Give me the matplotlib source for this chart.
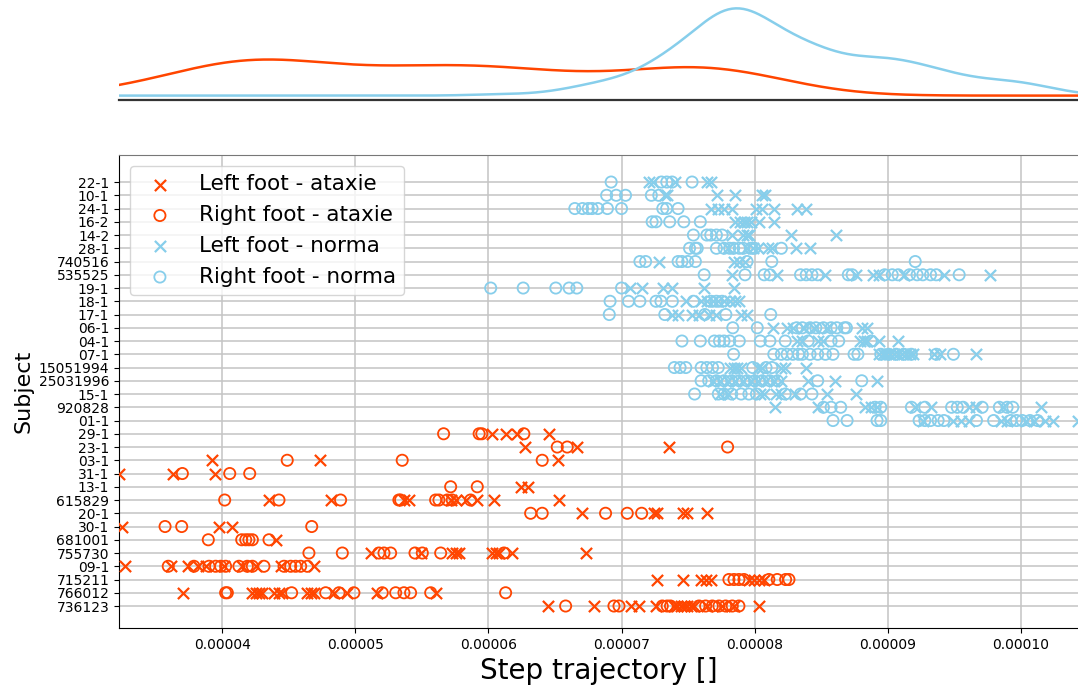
import numpy as np
import matplotlib
matplotlib.use("Agg")
import matplotlib.pyplot as plt
from matplotlib.ticker import FormatStrFormatter

# step trajectory values, in units of 1e-5
SCALE = 1e-5

subjects = ["22-1", "10-1", "24-1", "16-2", "14-2", "28-1", "740516", "535525",
            "19-1", "18-1", "17-1", "06-1", "04-1", "07-1", "15051994", "25031996",
            "15-1", "920828", "01-1", "29-1", "23-1", "03-1", "31-1", "13-1",
            "615829", "20-1", "30-1", "681001", "755730", "09-1", "715211",
            "766012", "736123"]

ataxie_left = {
    "29-1": [6.026, 6.131, 6.214, 6.453],
    "23-1": [6.275, 6.667, 7.359],
    "03-1": [3.925, 4.732, 6.524],
    "31-1": [3.224, 3.63, 3.945],
    "13-1": [6.242, 6.3],
    "615829": [4.351, 4.814, 5.365, 5.403, 5.716, 5.753, 5.829, 5.916, 6.041, 6.53],
    "20-1": [6.705, 7.244, 7.268, 7.461, 7.494, 7.639],
    "30-1": [3.249, 3.975, 4.075],
    "681001": [4.401],
    "755730": [5.115, 5.49, 5.728, 5.754, 5.778, 6.029, 6.054, 6.079, 6.179, 6.73],
    "09-1": [3.269, 3.612, 3.745, 3.82, 3.875, 4.013, 4.15, 4.251, 4.439, 4.689],
    "715211": [7.268, 7.461, 7.594, 7.632, 7.669, 7.957, 7.995, 8.032, 8.07],
    "766012": [3.705, 4.226, 4.251, 4.276, 4.301, 4.388, 4.426, 4.451, 4.639, 4.664,
               4.689, 4.839, 4.939, 5.165, 5.603],
    "736123": [6.45, 6.793, 7.069, 7.13, 7.256, 7.394, 7.419, 7.444, 7.469, 7.494,
               7.519, 7.544, 7.644, 7.757, 7.845, 8.032],
}
ataxie_right = {
    "29-1": [5.663, 5.93, 5.95, 6.266],
    "23-1": [6.517, 6.592, 7.797],
    "03-1": [4.488, 5.352, 6.404],
    "31-1": [3.7, 4.056, 4.206],
    "13-1": [5.716, 5.916],
    "615829": [4.018, 4.426, 4.889, 5.327, 5.34, 5.603, 5.628, 5.69, 5.728, 5.866],
    "20-1": [6.317, 6.404, 6.88, 7.043, 7.151],
    "30-1": [3.57, 3.695, 4.672],
    "681001": [3.895, 4.146, 4.176, 4.2, 4.226, 4.351],
    "755730": [4.651, 4.902, 5.177, 5.215, 5.265, 5.448, 5.503, 5.641, 6.117],
    "09-1": [3.594, 3.787, 3.9, 3.95, 3.988, 4.025, 4.125, 4.188, 4.226, 4.313,
             4.464, 4.514, 4.551, 4.589, 4.639],
    "715211": [7.807, 7.845, 7.882, 7.92, 8.107, 8.17, 8.233, 8.258],
    "766012": [4.025, 4.038, 4.521, 4.777, 4.877, 4.989, 5.202, 5.303, 5.365, 5.415,
               5.566, 6.129],
    "736123": [6.58, 6.943, 6.981, 7.306, 7.343, 7.368, 7.582, 7.632, 7.682, 7.732,
               7.782, 7.832, 7.882],
}
norma_left = {
    "22-1": [7.21, 7.24, 7.40, 7.64, 7.67],
    "10-1": [7.325, 7.345, 7.72, 7.856, 8.057, 8.08],
    "24-1": [7.67, 7.727, 7.77, 7.83, 8.014, 8.057, 8.144, 8.316, 8.388],
    "16-2": [7.851, 7.89, 7.92, 7.943, 7.971, 8.034, 8.144],
    "14-2": [7.828, 7.914, 7.943, 7.957, 8.273, 8.609],
    "28-1": [7.799, 7.943, 7.986, 8.029, 8.10, 8.13, 8.31, 8.417],
    "740516": [7.282, 7.842, 7.885, 7.928],
    "535525": [7.828, 8.167, 8.532, 8.761, 8.891, 8.934, 9.121, 9.422, 9.767],
    "19-1": [7.066, 7.152, 7.31, 7.382, 7.621, 7.842],
    "18-1": [7.483, 7.598, 7.641, 7.684, 7.727, 7.77, 7.813, 7.856, 7.885],
    "17-1": [7.382, 7.425, 7.526, 7.583, 7.655, 7.713, 7.899, 7.943],
    "06-1": [8.135, 8.244, 8.287, 8.374, 8.445, 8.546, 8.805, 8.848],
    "04-1": [8.316, 8.359, 8.474, 8.517, 8.79, 8.819, 8.848, 8.934, 9.078],
    "07-1": [8.934, 8.963, 8.991, 9.02, 9.049, 9.078, 9.106, 9.135, 9.164, 9.193,
             9.351, 9.394, 9.667],
    "15051994": [7.813, 7.842, 7.871, 7.899, 8.029, 8.057, 8.201, 8.23, 8.388],
    "25031996": [7.684, 7.741, 7.799, 7.856, 7.914, 7.971, 8.029, 8.086, 8.144,
                 8.201, 8.402, 8.603, 8.92],
    "15-1": [7.741, 7.799, 8.043, 8.072, 8.158, 8.201, 8.302, 8.546, 8.761],
    "920828": [8.152, 8.474, 8.833, 8.876, 8.92, 9.207, 9.322, 9.609, 9.667, 9.868,
               10.155],
    "01-1": [9.264, 9.494, 9.552, 9.609, 9.853, 9.897, 10.04, 10.098, 10.184, 10.241,
             10.43],
}
norma_right = {
    "22-1": [6.922, 7.30, 7.34, 7.38, 7.53],
    "10-1": [6.888, 6.96, 7.03, 7.224, 7.28],
    "24-1": [6.649, 6.707, 6.75, 6.779, 6.822, 6.894, 7.0, 7.31, 7.339, 7.425],
    "16-2": [7.23, 7.259, 7.362, 7.468, 7.592],
    "14-2": [7.54, 7.641, 7.67, 7.713, 7.756],
    "28-1": [7.511, 7.555, 7.569, 7.713, 7.77, 7.813, 7.842, 7.885, 7.914, 7.971,
             8.0, 8.201],
    "740516": [7.138, 7.181, 7.425, 7.454, 7.497, 7.555, 7.943, 8.129, 9.207],
    "535525": [7.621, 7.928, 8.072, 8.115, 8.345, 8.388, 8.431, 8.474, 8.704, 8.733,
               8.977, 9.034, 9.078, 9.164, 9.221, 9.264, 9.322, 9.365, 9.537],
    "19-1": [6.017, 6.261, 6.506, 6.606, 6.664, 7.0],
    "18-1": [6.914, 7.052, 7.138, 7.259, 7.296, 7.382, 7.54, 7.67, 7.713, 7.756],
    "17-1": [6.908, 7.325, 7.626, 7.784, 8.121],
    "06-1": [7.836, 8.02, 8.316, 8.359, 8.417, 8.46, 8.517, 8.575, 8.618, 8.675, 8.69],
    "04-1": [7.454, 7.592, 7.698, 7.736, 7.77, 7.813, 7.885, 8.043, 8.115, 8.23,
             8.402, 8.575, 8.632, 8.876],
    "07-1": [7.842, 8.144, 8.201, 8.244, 8.287, 8.33, 8.359, 8.417, 8.474, 8.532,
             8.589, 8.747, 8.776, 8.948, 9.006, 9.063, 9.121, 9.178, 9.365, 9.494],
    "15051994": [7.397, 7.44, 7.483, 7.598, 7.641, 7.684, 7.727, 7.986, 8.086, 8.129],
    "25031996": [7.598, 7.655, 7.713, 7.77, 7.828, 7.885, 7.943, 8.0, 8.057, 8.115,
                 8.172, 8.474, 8.805],
    "15-1": [7.549, 7.727, 7.77, 7.828, 7.899, 7.957, 8.014, 8.23, 8.345, 8.431],
    "920828": [8.517, 8.575, 8.647, 8.905, 8.948, 9.178, 9.279, 9.48, 9.523, 9.566,
               9.71, 9.839, 9.897, 9.94],
    "01-1": [8.589, 8.695, 8.92, 8.948, 9.236, 9.279, 9.322, 9.379, 9.422, 9.667,
             9.796, 9.925, 9.968, 10.011, 10.069, 10.126],
}

c_ataxie = "#FF4500"
c_norma = "#87CEEB"
ypos = {s: len(subjects) - 1 - i for i, s in enumerate(subjects)}


def points(d):
    xs, ys = [], []
    for s, vals in d.items():
        xs += [v * SCALE for v in vals]
        ys += [ypos[s]] * len(vals)
    return np.array(xs), np.array(ys)


def kde(values, grid, factor=1.0):
    values = np.asarray(values)
    bw = factor * values.std(ddof=1) * len(values) ** (-1 / 5)
    z = (grid[:, None] - values[None, :]) / bw
    return np.exp(-0.5 * z ** 2).sum(axis=1) / (len(values) * bw * np.sqrt(2 * np.pi))


fig = plt.figure(figsize=(10.78, 6.88), dpi=100)
ax = fig.add_axes([0.1104, 0.0872, 0.8896, 0.6875])
ax_top = fig.add_axes([0.1104, 0.8547, 0.8896, 0.1395], sharex=ax)

series = [(ataxie_left, "x", c_ataxie, "Left foot - ataxie"),
          (ataxie_right, "o", c_ataxie, "Right foot - ataxie"),
          (norma_left, "x", c_norma, "Left foot - norma"),
          (norma_right, "o", c_norma, "Right foot - norma")]
all_x = []
for d, m, c, lab in series:
    x, y = points(d)
    all_x.append(x)
    if m == "o":
        ax.scatter(x, y, s=65, marker="o", facecolors="none", edgecolors=c,
                   linewidths=1.3, label=lab, zorder=3)
    else:
        ax.scatter(x, y, s=65, marker="x", color=c, linewidths=1.6, label=lab, zorder=3)

all_x = np.concatenate(all_x)
xmin, xmax = all_x.min(), all_x.max()
ax.set_xlim(xmin, xmax)
ax.set_ylim(-1.66, len(subjects) - 1 + 2.04)
ax.set_yticks([ypos[s] for s in subjects])
ax.set_yticklabels(subjects, fontsize=10)
ax.set_xticks(np.arange(4, 11) * SCALE)
ax.xaxis.set_major_formatter(FormatStrFormatter("%.5f"))
ax.tick_params(axis="x", labelsize=10)
ax.grid(True, color="#c4c4c4", linewidth=1.1)
ax.set_axisbelow(True)
ax.set_xlabel("Step trajectory []", fontsize=20)
ax.set_ylabel("Subject", fontsize=16)
ax.spines["right"].set_visible(False)
ax.spines["top"].set_color("#777777")
ax.legend(loc="upper left", fontsize=15.5)

# density of each group along the trajectory axis
grid = np.linspace(xmin, xmax, 500)
ataxie_vals = np.concatenate([points(ataxie_left)[0], points(ataxie_right)[0]])
norma_vals = np.concatenate([points(norma_left)[0], points(norma_right)[0]])
ax_top.plot(grid, kde(ataxie_vals, grid), color=c_ataxie, linewidth=1.8)
ax_top.plot(grid, kde(norma_vals, grid, factor=0.85), color=c_norma, linewidth=1.8)
for sp in ["top", "right", "left"]:
    ax_top.spines[sp].set_visible(False)
ax_top.spines["bottom"].set_linewidth(1.6)
ax_top.spines["bottom"].set_color("#333333")
ax_top.tick_params(left=False, bottom=False, labelleft=False, labelbottom=False)

fig.savefig("out.png", dpi=100)
